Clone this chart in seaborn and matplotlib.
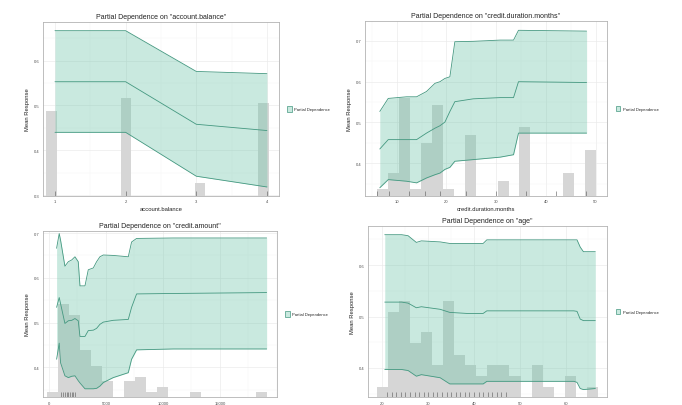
import numpy as np
import matplotlib
matplotlib.use("Agg")
import matplotlib.pyplot as plt
from matplotlib.colors import to_rgba
from matplotlib.patches import Patch
from matplotlib.ticker import AutoMinorLocator
import seaborn as sns

# ---- account.balance ----
balance_x = [1, 2, 3, 4]
balance_mean = [0.553, 0.553, 0.458, 0.444]
balance_lower = [0.440, 0.440, 0.342, 0.318]
balance_upper = [0.667, 0.667, 0.576, 0.571]
balance_hist = [195, 0, 0, 0, 0, 0, 0, 225, 0, 0, 0, 0, 0, 0, 30, 0, 0, 0, 0, 0, 215]
balance_rug = [1, 2, 3, 4]

# ---- credit.duration.months ----
duration_x = [6.6, 8.3, 12.0, 14.0, 16.0, 17.7, 18.7, 19.7, 20.7, 21.7, 25.4, 30.8, 33.5, 34.5, 41.5, 48.2]
duration_mean = [0.435, 0.458, 0.458, 0.458, 0.474, 0.486, 0.492, 0.501, 0.527, 0.551, 0.558, 0.561, 0.561, 0.600, 0.599, 0.598]
duration_lower = [0.340, 0.360, 0.356, 0.352, 0.364, 0.372, 0.376, 0.385, 0.390, 0.405, 0.409, 0.415, 0.421, 0.474, 0.474, 0.474]
duration_upper = [0.527, 0.559, 0.563, 0.563, 0.576, 0.596, 0.600, 0.608, 0.612, 0.698, 0.699, 0.702, 0.702, 0.726, 0.725, 0.724]
duration_hist = [12, 40, 172, 12, 93, 160, 13, 0, 107, 0, 0, 26, 0, 121, 0, 0, 0, 40, 0, 80]
duration_rug = [6, 8.5, 12.5, 15.7, 18.7, 24, 30, 36, 42, 48]

# ---- credit.amount ----
amount_x = [670, 900, 1020, 1400, 1700, 2000, 2280, 2570, 2720, 3160, 3450, 3890, 4180, 4470,
            4770, 5640, 6960, 7250, 7690, 10900, 19100]
amount_mean = [0.534, 0.556, 0.542, 0.498, 0.504, 0.505, 0.509, 0.504, 0.469, 0.469, 0.482, 0.483,
               0.487, 0.496, 0.501, 0.505, 0.507, 0.534, 0.564, 0.565, 0.567]
amount_lower = [0.418, 0.454, 0.410, 0.381, 0.377, 0.380, 0.381, 0.370, 0.365, 0.352, 0.352, 0.352,
                0.353, 0.358, 0.366, 0.377, 0.388, 0.418, 0.439, 0.441, 0.441]
amount_upper = [0.666, 0.699, 0.684, 0.626, 0.636, 0.640, 0.647, 0.636, 0.582, 0.582, 0.618, 0.622,
                0.636, 0.647, 0.651, 0.650, 0.647, 0.680, 0.688, 0.689, 0.689]
amount_hist = [10, 175, 155, 88, 58, 30, 0, 30, 39, 9, 19, 0, 0, 9, 0, 0, 0, 0, 0, 9]
amount_rug = [1100, 1250, 1400, 1550, 1700, 1850, 2000, 2150, 2300]

# ---- age ----
age_x = [20.5, 24.2, 25.6, 27.4, 28.5, 32.6, 34.7, 38.4, 42.0, 42.8, 61.8, 62.5, 63.2, 63.9, 66.5]
age_mean = [0.528, 0.528, 0.526, 0.517, 0.519, 0.514, 0.508, 0.506, 0.506, 0.511, 0.511, 0.510, 0.495, 0.492, 0.492]
age_lower = [0.397, 0.397, 0.395, 0.384, 0.387, 0.381, 0.369, 0.369, 0.369, 0.374, 0.374, 0.372, 0.360, 0.358, 0.360]
age_upper = [0.659, 0.659, 0.657, 0.644, 0.647, 0.645, 0.642, 0.642, 0.642, 0.649, 0.649, 0.649, 0.635, 0.626, 0.626]
age_hist = [10, 80, 90, 51, 61, 30, 90, 40, 30, 20, 30, 30, 20, 0, 30, 10, 0, 20, 0, 10]
age_rug = [21, 22, 23, 24, 25, 26, 27, 28, 29, 30, 31, 32, 33, 34, 35, 36, 37, 38, 39, 40,
           41, 42, 43, 44, 45, 46, 47]

BAND = "#66c2a5"
LINE = "#449880"
HIST = "#d6d6d6"
GRID = "#ebebeb"


def draw_panel(ax, feature, x, mean, lower, upper, hist, bin_start, bin_width, rug,
               xlim, ylim, xticks, yticks, show_xlabel=True):
    ymin, ymax = ylim
    counts = np.asarray(hist, dtype=float)
    heights = counts / counts.max() * 0.56 * (ymax - ymin)
    lefts = bin_start + np.arange(len(counts)) * bin_width
    ax.bar(lefts, heights, width=bin_width, bottom=ymin, align="edge",
           color=HIST, linewidth=0, zorder=1)

    ax.fill_between(x, lower, upper, color=BAND, alpha=0.35, linewidth=0, zorder=2)
    for y in (lower, mean, upper):
        sns.lineplot(x=x, y=y, ax=ax, color=LINE, linewidth=0.6, sort=False, zorder=3)
    sns.rugplot(x=rug, ax=ax, height=0.03, color="#555555", linewidth=0.4)

    ax.set_xlim(*xlim)
    ax.set_ylim(*ylim)
    ax.set_xticks(xticks)
    ax.set_yticks(yticks)
    ax.xaxis.set_minor_locator(AutoMinorLocator(2))
    ax.yaxis.set_minor_locator(AutoMinorLocator(2))
    ax.grid(which="major", color=GRID, linewidth=0.5, zorder=0)
    ax.grid(which="minor", color="#f5f5f5", linewidth=0.35, zorder=0)
    ax.set_axisbelow(True)
    for sp in ax.spines.values():
        sp.set_color("#b3b3b3")
        sp.set_linewidth(0.6)
    ax.tick_params(which="major", length=1.5, width=0.4, color="#333333",
                   labelsize=3, labelcolor="#4d4d4d", pad=1)
    ax.tick_params(which="minor", length=0)

    ax.set_title(f'Partial Dependence on "{feature}"', fontsize=5, color="#222222", pad=3)
    # the bottom row's x labels fall below the canvas in the reference
    ax.set_xlabel(feature if show_xlabel else "", fontsize=4.2, color="#222222", labelpad=2)
    ax.set_ylabel("Mean Response", fontsize=4.2, color="#222222", labelpad=3)

    handle = Patch(facecolor=to_rgba(BAND, 0.35), edgecolor=LINE, linewidth=0.5,
                   label="Partial Dependence")
    ax.legend(handles=[handle], loc="center left", bbox_to_anchor=(1.02, 0.5),
              frameon=False, fontsize=3, handlelength=1.1, handleheight=1.6,
              handletextpad=0.6)


sns.set_theme(style="white")
plt.rcParams["font.family"] = ["Liberation Sans", "DejaVu Sans"]

fig = plt.figure(figsize=(6.82, 4.06), dpi=100)
fig.patch.set_facecolor("white")

ax_tl = fig.add_axes([0.063, 0.515, 0.346, 0.429])
ax_tr = fig.add_axes([0.535, 0.515, 0.355, 0.431])
ax_bl = fig.add_axes([0.063, 0.019, 0.343, 0.410])
ax_br = fig.add_axes([0.540, 0.019, 0.350, 0.422])

draw_panel(ax_tl, "account.balance", balance_x, balance_mean, balance_lower, balance_upper,
           balance_hist, 0.88, 0.15, balance_rug,
           (0.83, 4.17), (0.298, 0.687), [1, 2, 3, 4], [0.3, 0.4, 0.5, 0.6])
draw_panel(ax_tr, "credit.duration.months", duration_x, duration_mean, duration_lower, duration_upper,
           duration_hist, 6.1, 2.2, duration_rug,
           (3.6, 52.3), (0.32, 0.749), [10, 20, 30, 40, 50], [0.4, 0.5, 0.6, 0.7])
draw_panel(ax_bl, "credit.amount", amount_x, amount_mean, amount_lower, amount_upper,
           amount_hist, -205, 965, amount_rug,
           (-526, 20000), (0.333, 0.705), [0, 5000, 10000, 15000], [0.4, 0.5, 0.6, 0.7],
           show_xlabel=False)
draw_panel(ax_br, "age", age_x, age_mean, age_lower, age_upper,
           age_hist, 18.83, 2.41, age_rug,
           (16.9, 69.05), (0.343, 0.676), [20, 30, 40, 50, 60], [0.4, 0.5, 0.6],
           show_xlabel=False)

fig.savefig("out.png", dpi=100)
